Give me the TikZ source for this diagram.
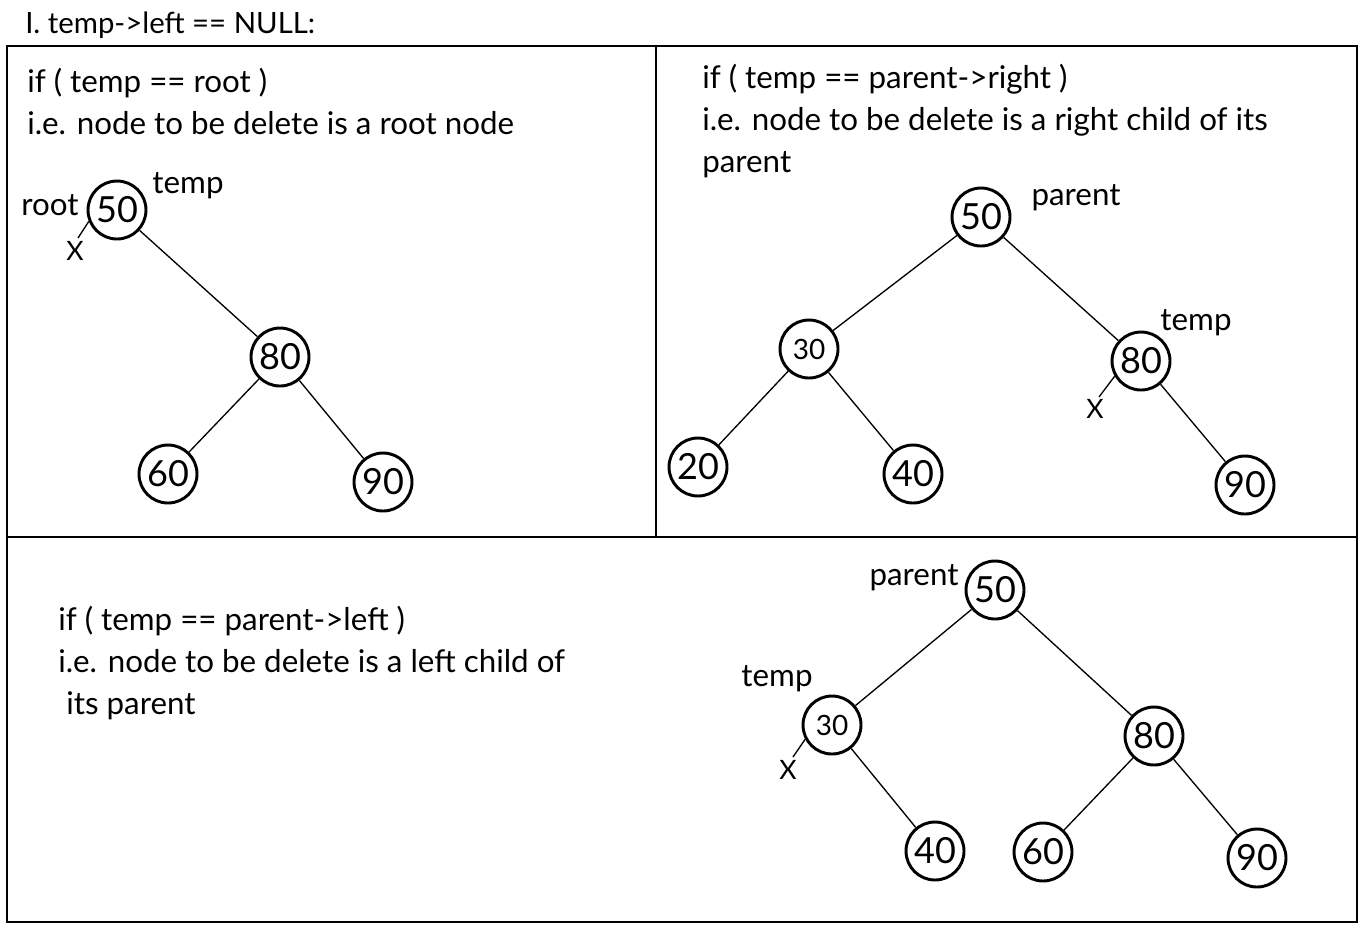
\documentclass[tikz,border=0pt]{standalone}
\usepackage{fontspec}
\setmainfont{Lato}
\begin{document}
\begin{tikzpicture}[x=0.75pt,y=-0.75pt,
  tnode/.style={circle,draw,line width=2.2pt,minimum size=43.5pt,inner sep=0pt,font=\fontsize{27}{27}\selectfont},
  snode/.style={tnode,font=\fontsize{21}{21}\selectfont},
  txt/.style={anchor=base west,inner sep=0pt,font=\fontsize{23.5}{23.5}\selectfont},
  lbl/.style={anchor=base,inner sep=0pt,font=\fontsize{23.5}{23.5}\selectfont},
  xlbl/.style={inner sep=0pt,font=\fontsize{20}{20}\selectfont},
  edge/.style={line width=1pt},
  frame/.style={line width=2.2pt},
  divider/.style={line width=1pt}]
\useasboundingbox (0,0) rectangle (1363,929);
\fill[white] (0,0) rectangle (1363,929);

% title and frame
\node[txt,font=\fontsize{22}{22}\selectfont] (title) at (25,33) {I. temp->left == NULL:};
\draw[frame] (7,46) rectangle (1357,922);
\draw[divider] (656,46) -- (656,537);
\draw[divider] (7,537) -- (1357,537);

% ---------- panel 1 ----------
\node[txt] (t1a) at (27,92) {if ( temp == root )};
\node[txt] (t1b) at (27,134) {i.e. node to be delete is a root node};
\node[tnode] (a50) at (117,210) {50};
\node[tnode] (a80) at (280,357) {80};
\node[tnode] (a60) at (168,474) {60};
\node[tnode] (a90) at (383,482) {90};
\node[lbl] (aroot) at (50,215) {root};
\node[lbl] (atemp) at (188,193) {temp};
\coordinate (ax) at (78,238);
\node[xlbl] (aX) at (75,251) {X};
\draw[edge] (a50) -- (a80);
\draw[edge] (a80) -- (a60);
\draw[edge] (a80) -- (a90);
\draw[edge] (a50.202) -- (ax);

% ---------- panel 2 ----------
\node[txt] (t2a) at (702,88) {if ( temp == parent->right )};
\node[txt] (t2b) at (702,130) {i.e. node to be delete is a right child of its};
\node[txt] (t2c) at (702,172) {parent};
\node[tnode] (b50) at (981,217) {50};
\node[snode] (b30) at (809,349) {30};
\node[tnode] (b80) at (1141,361) {80};
\node[tnode] (b20) at (698,467) {20};
\node[tnode] (b40) at (913,474) {40};
\node[tnode] (b90) at (1245,485) {90};
\node[lbl] (bparent) at (1076,205) {parent};
\node[lbl] (btemp) at (1196,330) {temp};
\coordinate (bx) at (1099,397);
\node[xlbl] (bX) at (1095,409) {X};
\draw[edge] (b50) -- (b30);
\draw[edge] (b50) -- (b80);
\draw[edge] (b30) -- (b20);
\draw[edge] (b30) -- (b40);
\draw[edge] (b80) -- (b90);
\draw[edge] (b80.210) -- (bx);

% ---------- panel 3 ----------
\node[txt] (t3a) at (58,630) {if ( temp == parent->left )};
\node[txt] (t3b) at (58,672) {i.e. node to be delete is a left child of};
\node[txt] (t3c) at (66,714) {its parent};
\node[tnode] (c50) at (995,590) {50};
\node[snode] (c30) at (832,725) {30};
\node[tnode] (c80) at (1154,736) {80};
\node[tnode] (c40) at (935,851) {40};
\node[tnode] (c60) at (1043,852) {60};
\node[tnode] (c90) at (1257,858) {90};
\node[lbl] (cparent) at (914,585) {parent};
\node[lbl] (ctemp) at (777,686) {temp};
\coordinate (cx) at (793,757);
\node[xlbl] (cX) at (788,770) {X};
\draw[edge] (c50) -- (c30);
\draw[edge] (c50) -- (c80);
\draw[edge] (c30) -- (c40);
\draw[edge] (c80) -- (c60);
\draw[edge] (c80) -- (c90);
\draw[edge] (c30.208) -- (cx);
\end{tikzpicture}
\end{document}
